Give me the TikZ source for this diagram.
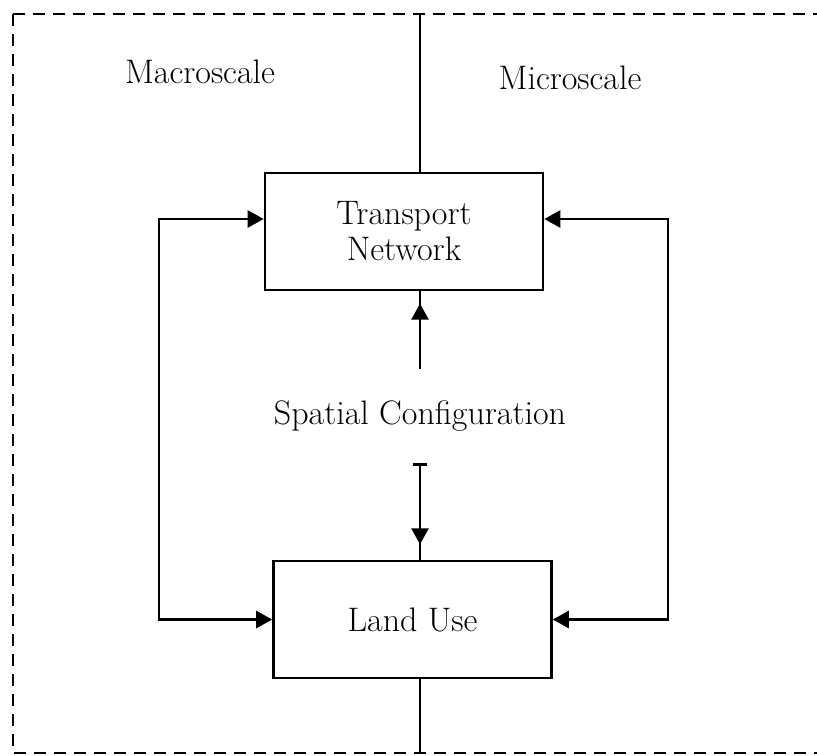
\documentclass[tikz,border=0pt]{standalone}
\usepackage{fontspec}
\setmainfont{Latin Modern Roman}
\usetikzlibrary{arrows.meta,decorations.markings}
\begin{document}
\begin{tikzpicture} [
                x=0.5pt, y=-0.5pt,
                every node/.style={font=\fontsize{17}{18}\selectfont},
                box/.style={draw, line width=1.3pt, fill=white, align=center,
                    minimum width=139pt, minimum height=58.5pt, inner sep=0pt},
                link/.style={draw, line width=1.3pt,
                    {Triangle[length=8pt,width=8.5pt]}-{Triangle[length=8pt,width=8.5pt]}},
                spine/.style={draw, line width=1.3pt},
                tipped/.style={spine, postaction={decorate}, decoration={markings,
                    mark=at position #1 with {\arrow{Triangle[length=8pt,width=8.5pt]}}}},
            ]
            \useasboundingbox (0,0) rectangle (817,755);
            % Outer frame and the scale split
            \draw[line width=1.3pt, dash pattern=on 6pt off 4pt] (13,14) rectangle (840,753);
            \coordinate (top) at (420,14);
            \coordinate (bottom) at (420,753);
            % The two boxes and the middle text
            \node[box] (tn) at (404,231.5) {Transport\\Network};
            \node[box] (lu) at (412.5,619.5) {Land Use};
            \node[inner sep=0pt, minimum height=47pt] (sc) at (420,416) {Spatial Configuration};
            \foreach \pos/\name/\txt in {
                    {(200,72)/macro/Macroscale}, {(570,78)/micro/Microscale}}
                \node (\name) at \pos {\txt};
            % Vertical spine through the boxes
            \path[spine] (top) -- (top |- tn.north);
            \path[spine] (bottom |- lu.south) -- (bottom);
            \path[tipped=0.84] (sc.north) -- (sc.north |- tn.south);
            \path[tipped=0.84, {Bar[width=7pt]}-] (sc.south) -- (sc.south |- lu.north);
            % Feedback loops on both sides
            \coordinate (leftbus) at (159,419);
            \coordinate (rightbus) at (668,419);
            \path[link] ([yshift=6.25pt]tn.west) -| (leftbus) |- (lu.west);
            \path[link] ([yshift=6.25pt]tn.east) -| (rightbus) |- (lu.east);
        \end{tikzpicture}
\end{document}
